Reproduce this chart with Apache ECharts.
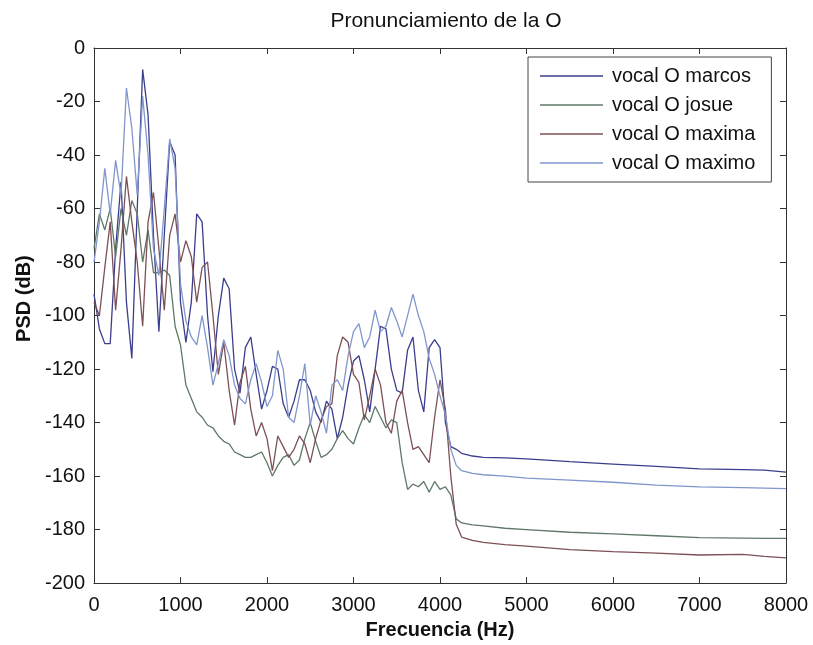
<!DOCTYPE html>
<html>
<head>
<meta charset="utf-8">
<script src="https://cdn.jsdelivr.net/npm/echarts@6/dist/echarts.min.js"></script>
<style>
html,body{margin:0;padding:0;background:#fff;}
#chart{width:813px;height:645px;}
</style>
</head>
<body>
<div id="chart"></div>
<script>
// Frequency samples (Hz)
var freq = [0,62.5,125,187.5,250,312.5,375,437.5,500,562.5,625,687.5,750,812.5,875,937.5,
1000,1062.5,1125,1187.5,1250,1312.5,1375,1437.5,1500,1562.5,1625,1687.5,1750,1812.5,1875,1937.5,
2000,2062.5,2125,2187.5,2250,2312.5,2375,2437.5,2500,2562.5,2625,2687.5,2750,2812.5,2875,2937.5,
3000,3062.5,3125,3187.5,3250,3312.5,3375,3437.5,3500,3562.5,3625,3687.5,3750,3812.5,3875,3937.5,
4000,4062.5,4125,4187.5,4250,4375,4500,4750,5000,5500,6000,6500,7000,7500,7750,8000];

var marcos = [-92,-105,-110.5,-110.5,-75,-50,-95,-116,-60,-8,-25,-70,-106,-70,-35,-40,
-95,-110,-95,-62,-65,-100,-121,-100,-86,-90,-120,-129,-112,-108,-122,-135,
-128,-119,-120,-133,-138,-132,-124,-124,-128,-136,-140,-132,-135,-146,-138,-126,
-117,-115,-124,-136,-120,-104,-105,-120,-128,-129,-113,-108,-128,-136,-112,-109,
-112,-140,-149,-150,-151.5,-152.5,-153,-153.2,-153.6,-154.6,-155.5,-156.4,-157.3,-157.6,-157.8,-158.5];

var josue = [-75,-62,-68,-60,-78,-60,-70,-57,-62,-80,-68,-84,-84,-83,-85,-104,
-111,-126,-131,-136,-138,-141,-142,-145,-147,-148,-151,-152,-153,-153,-152,-151,
-155,-160,-156,-153,-152,-156,-154,-146,-140,-147,-153,-152,-150,-146,-143,-146,
-148,-142,-137,-140,-134,-138,-142,-139,-140,-155,-165,-163,-164,-162,-166,-162,
-165,-164,-167,-176,-177.5,-178.2,-178.6,-179.5,-180,-181,-181.6,-182.3,-183,-183.2,-183.3,-183.3];

var maxima = [-95,-100,-82,-65,-98,-75,-48,-65,-80,-104,-65,-54,-75,-98,-70,-62,
-80,-72,-78,-95,-82,-80,-100,-122,-110,-128,-141,-125,-119,-135,-145,-140,
-146,-158,-145,-149,-153,-150,-145,-148,-155,-146,-139,-134,-133,-115,-108,-110,
-122,-125,-139,-130,-120,-126,-140,-144,-132,-128,-140,-150,-149,-152,-155,-138,
-124,-135,-160,-178,-182.8,-184,-184.8,-185.6,-186.2,-187.5,-188.2,-188.8,-189.5,-189.3,-190,-190.6];

var maximo = [-80,-65,-45,-62,-42,-55,-15,-30,-55,-18,-40,-75,-85,-60,-34,-45,
-88,-102,-108,-111,-100,-112,-126,-118,-109,-115,-126,-131,-133,-124,-118,-125,
-134,-130,-113,-120,-138,-140,-130,-118,-141,-130,-136,-144,-126,-124,-128,-115,
-106,-103,-112,-108,-98,-106,-104,-97,-102,-108,-100,-92,-100,-106,-116,-122,
-130,-137,-150,-156,-158,-159,-159.5,-160,-160.8,-161.5,-162.3,-163.4,-164,-164.3,-164.5,-164.7];

var seriesNames = ['vocal O marcos','vocal O josue','vocal O maxima','vocal O maximo'];
var seriesValues = [marcos, josue, maxima, maximo];
var seriesColors = ['#3a3e8c','#5f7868','#7c5056','#8096cc'];
var xTicks = [0,1000,2000,3000,4000,5000,6000,7000,8000];
var yTicks = [0,-20,-40,-60,-80,-100,-120,-140,-160,-180,-200];

function pairs(vals){
  var out = [];
  for (var i = 0; i < freq.length; i++) out.push([freq[i], vals[i]]);
  return out;
}

var chart = echarts.init(document.getElementById('chart'), null, {renderer:'canvas'});
var FONT = '"Liberation Sans", Arial, sans-serif';

var series = seriesNames.map(function(n, k){
  return {
    name: n, type: 'line', data: pairs(seriesValues[k]),
    symbol: 'none', showSymbol: false, animation: false,
    lineStyle: {color: seriesColors[k], width: 1.3},
    itemStyle: {color: seriesColors[k]},
    xAxisIndex: 0, yAxisIndex: 0
  };
});

function line(){ return {show: true, onZero: false, lineStyle: {color: '#333', width: 1}}; }
function tick(){ return {show: true, inside: true, length: 6, lineStyle: {color: '#333', width: 1}}; }

chart.setOption({
  backgroundColor: '#ffffff',
  animation: false,
  title: {
    text: 'Pronunciamiento de la O',
    left: 441, top: 6, textAlign: 'center',
    textStyle: {fontFamily: FONT, fontSize: 21, fontWeight: 'normal', color: '#111'}
  },
  legend: {
    data: seriesNames.map(function(n){ return {name: n, icon: 'rect'}; }),
    orient: 'vertical',
    left: 528, top: 57,
    backgroundColor: '#fff',
    borderColor: '#444', borderWidth: 1,
    padding: [9, 16, 9, 12],
    itemGap: 9,
    itemWidth: 63, itemHeight: 1.6,
    textStyle: {fontFamily: FONT, fontSize: 20, color: '#111', padding: [0,0,0,4]}
  },
  grid: {left: 94, right: 27, top: 48, bottom: 57, containLabel: false},
  xAxis: [
    {
      type: 'value', min: 0, max: 8000, interval: 1000, position: 'bottom',
      name: 'Frecuencia (Hz)', nameLocation: 'middle', nameGap: 35,
      nameTextStyle: {fontFamily: FONT, fontSize: 20, fontWeight: 'bold', color: '#111'},
      axisLine: line(), axisTick: tick(), splitLine: {show: false},
      axisLabel: {fontFamily: FONT, fontSize: 20, color: '#111', margin: 12,
        formatter: function(v){ return xTicks.indexOf(v) >= 0 ? String(v) : ''; }}
    },
    {
      type: 'value', min: 0, max: 8000, interval: 1000, position: 'top',
      axisLine: line(), axisTick: tick(), splitLine: {show: false},
      axisLabel: {show: false}
    }
  ],
  yAxis: [
    {
      type: 'value', min: -200, max: 0, interval: 20, position: 'left',
      name: 'PSD (dB)', nameLocation: 'middle', nameGap: 44, nameRotate: 90,
      nameTextStyle: {fontFamily: FONT, fontSize: 20, fontWeight: 'bold', color: '#111', padding: [0,0,0,34]},
      axisLine: line(), axisTick: tick(), splitLine: {show: false},
      axisLabel: {fontFamily: FONT, fontSize: 20, color: '#111', margin: 9,
        formatter: function(v){ return yTicks.indexOf(v) >= 0 ? String(v) : ''; }}
    },
    {
      type: 'value', min: -200, max: 0, interval: 20, position: 'right',
      axisLine: line(), axisTick: tick(), splitLine: {show: false},
      axisLabel: {show: false}
    }
  ],
  series: series
});
</script>
</body>
</html>
